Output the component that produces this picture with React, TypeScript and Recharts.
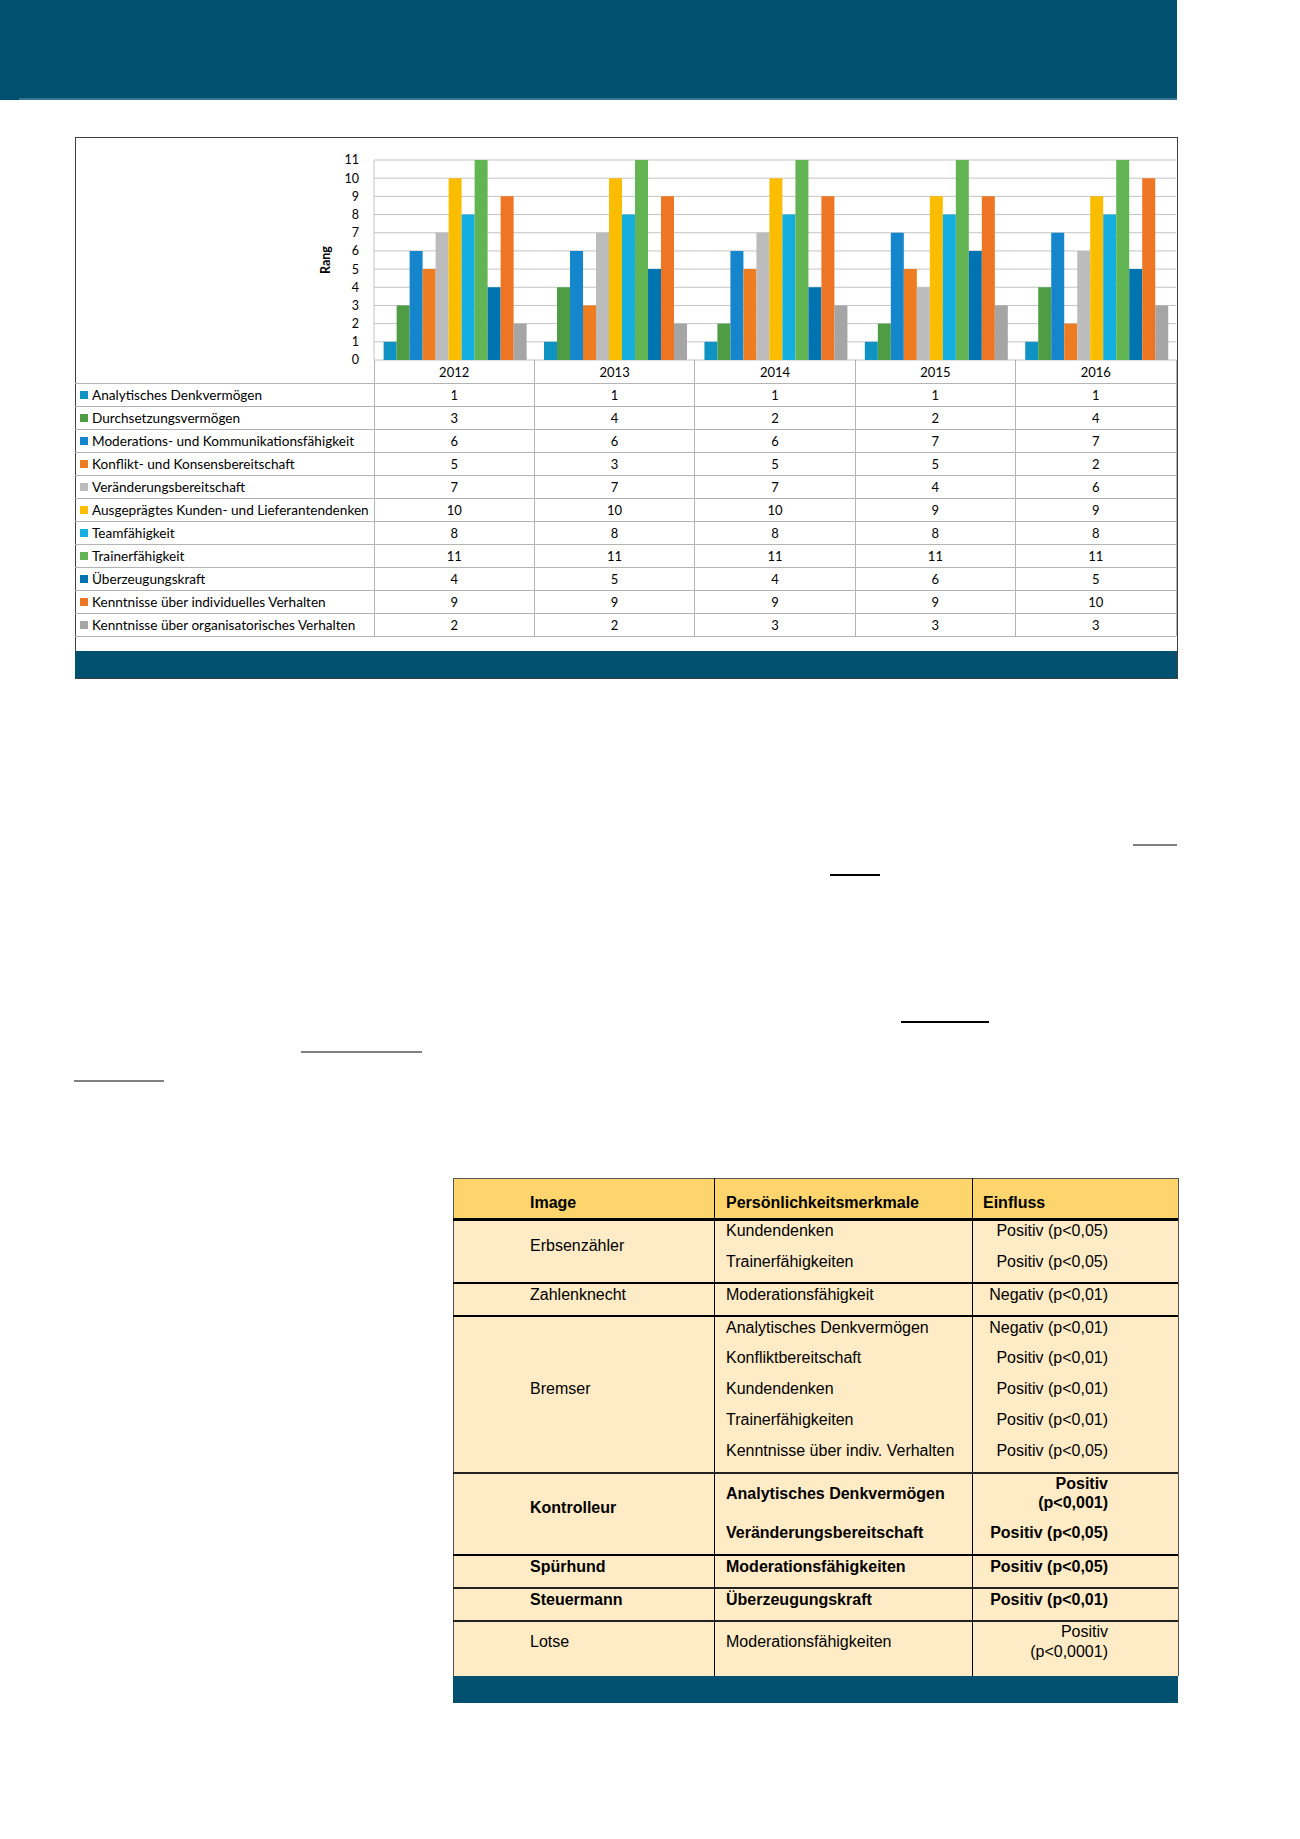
import React from "react"
import { Bar, BarChart, CartesianGrid, XAxis, YAxis } from "recharts"

const years = ["2012", "2013", "2014", "2015", "2016"]

const seriesNames = [
  "Analytisches Denkvermögen",
  "Durchsetzungsvermögen",
  "Moderations- und Kommunikationsfähigkeit",
  "Konflikt- und Konsensbereitschaft",
  "Veränderungsbereitschaft",
  "Ausgeprägtes Kunden- und Lieferantendenken",
  "Teamfähigkeit",
  "Trainerfähigkeit",
  "Überzeugungskraft",
  "Kenntnisse über individuelles Verhalten",
  "Kenntnisse über organisatorisches Verhalten",
]

const analytisch = [1, 1, 1, 1, 1]
const durchsetzung = [3, 4, 2, 2, 4]
const moderation = [6, 6, 6, 7, 7]
const konflikt = [5, 3, 5, 5, 2]
const veraenderung = [7, 7, 7, 4, 6]
const kundenDenken = [10, 10, 10, 9, 9]
const team = [8, 8, 8, 8, 8]
const trainer = [11, 11, 11, 11, 11]
const ueberzeugung = [4, 5, 4, 6, 5]
const indivVerhalten = [9, 9, 9, 9, 10]
const orgVerhalten = [2, 2, 3, 3, 3]

const series = [
  analytisch,
  durchsetzung,
  moderation,
  konflikt,
  veraenderung,
  kundenDenken,
  team,
  trainer,
  ueberzeugung,
  indivVerhalten,
  orgVerhalten,
]

const colors = [
  "#0f93c3",
  "#4e9c44",
  "#1586cb",
  "#ee7d22",
  "#bcbcbc",
  "#fbbd00",
  "#14aee0",
  "#63b553",
  "#0073b1",
  "#ee7523",
  "#a5a5a5",
]

const yTicks = [0, 1, 2, 3, 4, 5, 6, 7, 8, 9, 10, 11]

const data = years.map((year, i) => {
  const row: Record<string, string | number> = { year }
  series.forEach((s, k) => {
    row["s" + k] = s[i]
  })
  return row
})

const NAVY = "#00506f"
const calibri = "Lato, 'Open Sans', sans-serif"
const arial = "'Liberation Sans', Arial, sans-serif"

// table geometry under the chart
const tblTop = 360
const headH = 23
const rowH = 23
const labelLeft = 75
const plotLeft = 374
const plotRight = 1176
const colW = (plotRight - plotLeft) / years.length

function Txt({ x, y, children, bold, right, size = 16, font = arial }: any) {
  const style: React.CSSProperties = {
    position: "absolute",
    top: y,
    transform: "translateY(-50%)",
    whiteSpace: "nowrap",
    fontFamily: font,
    fontSize: size,
    fontWeight: bold ? 700 : 400,
    lineHeight: 1.1,
    color: "#000",
  }
  if (right) {
    style.right = 1300 - x
    style.textAlign = "right"
  } else {
    style.left = x
  }
  return <div style={style}>{children}</div>
}

function HLine({ x1, x2, y, w = 1, color = "#000" }: any) {
  return (
    <div
      style={{ position: "absolute", left: x1, top: y - w / 2, width: x2 - x1, height: w, background: color }}
    />
  )
}

function VLine({ x, y1, y2, w = 1, color = "#000" }: any) {
  return (
    <div
      style={{ position: "absolute", left: x - w / 2, top: y1, width: w, height: y2 - y1, background: color }}
    />
  )
}

function RankChart() {
  return (
    <div style={{ position: "absolute", left: 75, top: 137 }}>
      <BarChart
        width={1102}
        height={237}
        data={data}
        margin={{ top: 23, right: 1, left: 239, bottom: 14 }}
        barCategoryGap="6%"
        barGap={0}
      >
        <CartesianGrid horizontal vertical={false} stroke="#c4c4c4" />
        <XAxis dataKey="year" hide height={0} />
        <YAxis
          width={60}
          domain={[0, 11]}
          ticks={yTicks}
          interval={0}
          tickLine={false}
          tickSize={0}
          tickMargin={15}
          axisLine={{ stroke: "#c4c4c4" }}
          tick={{ fontSize: 12.5, fill: "#000", fontFamily: calibri }}
        />
        {series.map((_, k) => (
          <Bar key={k} dataKey={"s" + k} fill={colors[k]} isAnimationActive={false} />
        ))}
      </BarChart>
    </div>
  )
}

function DataTable() {
  const lineColor = "#b4b4b4"
  const bottom = tblTop + headH + rowH * seriesNames.length
  const items: React.ReactNode[] = []
  years.forEach((y, i) => {
    items.push(
      <Txt key={"y" + i} x={plotLeft + colW * i + colW / 2} y={tblTop + headH / 2} size={13} font={calibri}>
        <span style={{ display: "inline-block", transform: "translateX(-50%)" }}>{y}</span>
      </Txt>
    )
  })
  for (let i = 0; i <= years.length; i++) {
    items.push(<VLine key={"v" + i} x={plotLeft + colW * i} y1={tblTop} y2={bottom} color={lineColor} />)
  }
  seriesNames.forEach((name, k) => {
    const top = tblTop + headH + rowH * k
    items.push(<HLine key={"h" + k} x1={labelLeft} x2={plotRight} y={top} color={lineColor} />)
    items.push(
      <div
        key={"sq" + k}
        style={{ position: "absolute", left: 80, top: top + rowH / 2 - 4, width: 8, height: 8, background: colors[k] }}
      />
    )
    items.push(
      <Txt key={"n" + k} x={92} y={top + rowH / 2} size={13.6} font={calibri}>
        {name}
      </Txt>
    )
    series[k].forEach((v, i) => {
      items.push(
        <Txt key={"c" + k + "-" + i} x={plotLeft + colW * i + colW / 2} y={top + rowH / 2} size={13} font={calibri}>
          <span style={{ display: "inline-block", transform: "translateX(-50%)" }}>{v}</span>
        </Txt>
      )
    })
  })
  items.push(<HLine key="hb" x1={labelLeft} x2={plotRight} y={bottom} color={lineColor} />)
  return <>{items}</>
}

function ImageTable() {
  const L = 453
  const R = 1178
  const c1 = 714
  const c2 = 972
  const tx1 = 530
  const tx2 = 726
  const tx3 = 1108
  return (
    <>
      <div style={{ position: "absolute", left: L, top: 1178, width: R - L, height: 1676 - 1178, background: "#ffebc6" }} />
      <div style={{ position: "absolute", left: L, top: 1178, width: R - L, height: 41, background: "#fdd56c" }} />
      <div style={{ position: "absolute", left: L, top: 1676, width: R - L, height: 27, background: NAVY }} />
      <HLine x1={L} x2={R} y={1178} color="#555" />
      <VLine x={L} y1={1178} y2={1676} color="#555" />
      <VLine x={R} y1={1178} y2={1676} color="#555" />
      <VLine x={c1} y1={1178} y2={1676} />
      <VLine x={c2} y1={1178} y2={1676} />
      <HLine x1={L} x2={R} y={1219} w={3} />
      <HLine x1={L} x2={R} y={1283} w={2.5} />
      <HLine x1={L} x2={R} y={1316} w={2.5} />
      <HLine x1={L} x2={R} y={1473} w={2.5} color="#222" />
      <HLine x1={L} x2={R} y={1555} w={2.5} />
      <HLine x1={L} x2={R} y={1588} w={2} color="#222" />
      <HLine x1={L} x2={R} y={1621} w={2} color="#222" />

      <Txt x={tx1} y={1203} bold>Image</Txt>
      <Txt x={tx2} y={1203} bold>Persönlichkeitsmerkmale</Txt>
      <Txt x={983} y={1203} bold>Einfluss</Txt>

      <Txt x={tx1} y={1246}>Erbsenzähler</Txt>
      <Txt x={tx2} y={1231}>Kundendenken</Txt>
      <Txt x={tx2} y={1262}>Trainerfähigkeiten</Txt>
      <Txt x={tx3} y={1231} right>Positiv (p&lt;0,05)</Txt>
      <Txt x={tx3} y={1262} right>Positiv (p&lt;0,05)</Txt>

      <Txt x={tx1} y={1295}>Zahlenknecht</Txt>
      <Txt x={tx2} y={1295}>Moderationsfähigkeit</Txt>
      <Txt x={tx3} y={1295} right>Negativ (p&lt;0,01)</Txt>

      <Txt x={tx1} y={1389}>Bremser</Txt>
      <Txt x={tx2} y={1328}>Analytisches Denkvermögen</Txt>
      <Txt x={tx2} y={1358}>Konfliktbereitschaft</Txt>
      <Txt x={tx2} y={1389}>Kundendenken</Txt>
      <Txt x={tx2} y={1420}>Trainerfähigkeiten</Txt>
      <Txt x={tx2} y={1451}>Kenntnisse über indiv. Verhalten</Txt>
      <Txt x={tx3} y={1328} right>Negativ (p&lt;0,01)</Txt>
      <Txt x={tx3} y={1358} right>Positiv (p&lt;0,01)</Txt>
      <Txt x={tx3} y={1389} right>Positiv (p&lt;0,01)</Txt>
      <Txt x={tx3} y={1420} right>Positiv (p&lt;0,01)</Txt>
      <Txt x={tx3} y={1451} right>Positiv (p&lt;0,05)</Txt>

      <Txt x={tx1} y={1508} bold>Kontrolleur</Txt>
      <Txt x={tx2} y={1494} bold>Analytisches Denkvermögen</Txt>
      <Txt x={tx3} y={1484} right bold>Positiv</Txt>
      <Txt x={tx3} y={1503} right bold>(p&lt;0,001)</Txt>
      <Txt x={tx2} y={1533} bold>Veränderungsbereitschaft</Txt>
      <Txt x={tx3} y={1533} right bold>Positiv (p&lt;0,05)</Txt>

      <Txt x={tx1} y={1567} bold>Spürhund</Txt>
      <Txt x={tx2} y={1567} bold>Moderationsfähigkeiten</Txt>
      <Txt x={tx3} y={1567} right bold>Positiv (p&lt;0,05)</Txt>

      <Txt x={tx1} y={1600} bold>Steuermann</Txt>
      <Txt x={tx2} y={1600} bold>Überzeugungskraft</Txt>
      <Txt x={tx3} y={1600} right bold>Positiv (p&lt;0,01)</Txt>

      <Txt x={tx1} y={1642}>Lotse</Txt>
      <Txt x={tx2} y={1642}>Moderationsfähigkeiten</Txt>
      <Txt x={tx3} y={1632} right>Positiv</Txt>
      <Txt x={tx3} y={1652} right>(p&lt;0,0001)</Txt>
    </>
  )
}

export default function App() {
  return (
    <div
      style={{ position: "absolute", left: 0, top: 0, width: 1300, height: 1839, background: "#fff", overflow: "hidden" }}
    >
      {/* header banner */}
      <div style={{ position: "absolute", left: 0, top: 0, width: 1177, height: 100, background: NAVY }} />
      <div style={{ position: "absolute", left: 19, top: 98, width: 1158, height: 2, background: "#3a7593" }} />

      {/* chart box */}
      <div
        style={{ position: "absolute", left: 75, top: 137, width: 1101, height: 540, border: "1px solid #404040" }}
      />
      <RankChart />
      <div
        style={{
          position: "absolute",
          left: 325,
          top: 260,
          transform: "translate(-50%, -50%) rotate(-90deg)",
          fontFamily: calibri,
          fontWeight: 700,
          fontSize: 12.5,
        }}
      >
        Rang
      </div>
      <DataTable />
      <div style={{ position: "absolute", left: 75, top: 651, width: 1102, height: 27, background: NAVY }} />

      {/* leftover underline marks of the body text */}
      <HLine x1={1133} x2={1177} y={845} w={2} color="#808080" />
      <HLine x1={830} x2={880} y={875} w={1.5} />
      <HLine x1={901} x2={989} y={1022} w={1.5} />
      <HLine x1={301} x2={422} y={1052} w={2} color="#808080" />
      <HLine x1={74} x2={164} y={1081} w={2} color="#808080" />

      <ImageTable />
    </div>
  )
}
